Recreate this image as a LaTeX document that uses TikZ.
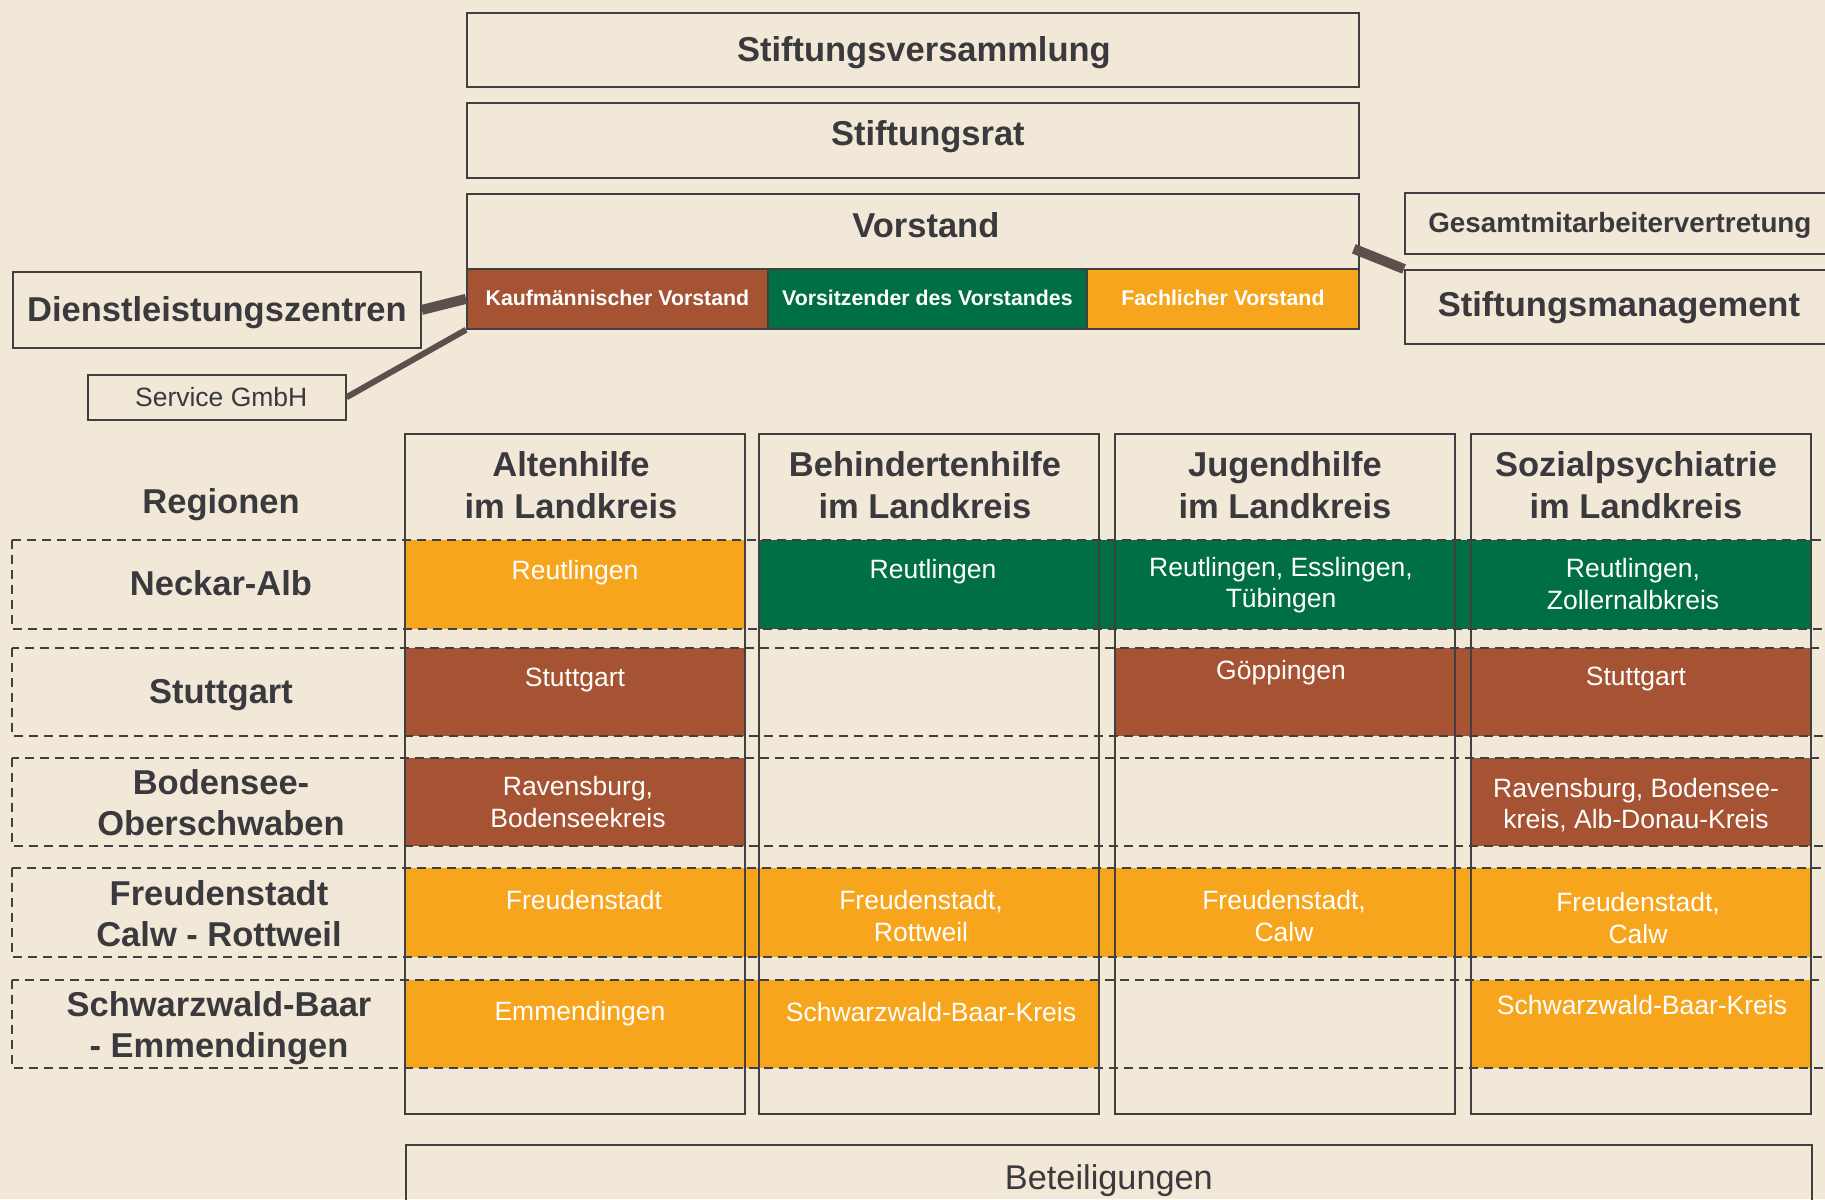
\documentclass[tikz,border=0pt]{standalone}
\usepackage{fontspec}
\setmainfont{Liberation Sans}
\usetikzlibrary{calc}
\definecolor{bg}{HTML}{F1E8D7}
\definecolor{txt}{HTML}{3A393D}
\definecolor{boxc}{HTML}{404040}
\definecolor{orng}{HTML}{F7A51D}
\definecolor{grn}{HTML}{007044}
\definecolor{brwn}{HTML}{A55332}
\definecolor{connc}{HTML}{5C504C}
\newcommand{\lowerby}[2]{\raisebox{-#1pt}[\height][\depth]{#2}}
\tikzset{
  box/.style={draw=boxc, line width=1.8pt, inner sep=0pt, anchor=north west, text=txt},
  bigb/.style={font=\fontsize{34.5}{42}\selectfont\bfseries, align=center, text=txt},
  cell/.style={text=white, font=\fontsize{26.5}{31.5}\selectfont, align=center, inner sep=0pt},
  conn/.style={draw=connc, line cap=butt},
  colbox/.style={draw=boxc, line width=1.8pt},
  rowbox/.style={draw=boxc, line width=1.6pt, dash pattern=on 9pt off 6pt},
  vcell/.style={draw=boxc, line width=1.8pt, inner sep=0pt, anchor=north west, text=white,
    font=\fontsize{21.3}{25}\selectfont\bfseries}
}
\begin{document}
\begin{tikzpicture}[x=1pt,y=-1pt]
\path[use as bounding box, fill=bg] (0,0) rectangle (1825,1199);
\clip (0,0) rectangle (1825,1199);

% top boxes
\node[box, bigb, minimum width=892, minimum height=74] (sv) at (466,12) {\hspace*{22pt}\lowerby{2.5}{Stiftungsversammlung}};
\node[box, bigb, minimum width=892, minimum height=75] (sr) at (466,102) {\hspace*{30pt}\lowerby{-3.5}{Stiftungsrat}};
\node[box, bigb, minimum width=892, minimum height=75] (vs) at (466,193) {\hspace*{26pt}\lowerby{-6}{Vorstand}};
\node[vcell, fill=brwn, minimum width=301, minimum height=60] (kv) at (466,268) {\lowerby{-1}{Kaufmännischer Vorstand}};
\node[vcell, fill=grn, minimum width=319, minimum height=60] (vv) at (767,268) {\lowerby{-1}{Vorsitzender des Vorstandes}};
\node[vcell, fill=orng, minimum width=272, minimum height=60] (fv) at (1086,268) {\lowerby{-1}{Fachlicher Vorstand}};

\node[box, bigb, minimum width=408, minimum height=76] (dl) at (12,271) {\lowerby{2.3}{Dienstleistungszentren}};
\node[box, line width=1.5pt, font=\fontsize{26.5}{31.5}\selectfont, minimum width=258, minimum height=45] (sg) at (87,374) {\hspace*{9pt}Service GmbH};
\node[box, font=\fontsize{27.8}{33}\selectfont\bfseries, minimum width=430, minimum height=61] (gm) at (1404,192) {\lowerby{2}{Gesamtmitarbeitervertretung}};
\node[box, bigb, minimum width=428, minimum height=74] (sm) at (1404,269) {\lowerby{1}{Stiftungsmanagement}};

% connectors
\draw[conn, line width=10pt] (dl.east) -- (kv.west);
\draw[conn, line width=6pt] (sg.east) -- (kv.south west);
\draw[conn, line width=10pt] ($(vs.south east)+(-6,-21)$) -- (sm.north west);

% cell fills
\fill[orng] (405,540) rectangle (745,629);
\fill[grn]  (759,540) rectangle (1811,629);
\fill[brwn] (405,648) rectangle (745,736);
\fill[brwn] (1115,648) rectangle (1811,736);
\fill[brwn] (405,758) rectangle (745,846);
\fill[brwn] (1471,758) rectangle (1811,846);
\fill[orng] (405,868) rectangle (1811,957);
\fill[orng] (405,980) rectangle (1099,1068);
\fill[orng] (1471,980) rectangle (1811,1068);

% columns
\draw[colbox] (405,434) rectangle (745,1114);
\draw[colbox] (759,434) rectangle (1099,1114);
\draw[colbox] (1115,434) rectangle (1455,1114);
\draw[colbox] (1471,434) rectangle (1811,1114);

% dashed rows
\draw[rowbox] (12,540) rectangle (1840,629);
\draw[rowbox] (12,648) rectangle (1840,736);
\draw[rowbox] (12,758) rectangle (1840,846);
\draw[rowbox] (12,868) rectangle (1840,957);
\draw[rowbox] (12,980) rectangle (1840,1068);

% column headers
\node[bigb] (h1) at (571,485) {Altenhilfe\\im Landkreis};
\node[bigb] (h2) at (925,485) {Behindertenhilfe\\im Landkreis};
\node[bigb] (h3) at (1285,485) {Jugendhilfe\\im Landkreis};
\node[bigb] (h4) at (1636,485) {Sozialpsychiatrie\\im Landkreis};

% row labels
\node[bigb] (rg) at (221,505) {Regionen};
\node[bigb] (r1) at (221,583) {Neckar-Alb};
\node[bigb] (r2) at (221,695) {Stuttgart};
\node[bigb, font=\fontsize{34.5}{41}\selectfont\bfseries] (r3) at (221,803) {Bodensee-\\Oberschwaben};
\node[bigb, font=\fontsize{34.5}{41}\selectfont\bfseries] (r4) at (219,914) {Freudenstadt\\Calw - Rottweil};
\node[bigb, font=\fontsize{34.5}{41}\selectfont\bfseries] (r5) at (219,1028) {Schwarzwald-Baar\\- Emmendingen};

% cell texts
\node[cell] (t11) at (575,573) {Reutlingen};
\node[cell] (t12) at (933,572) {Reutlingen};
\node[cell] (t13) at (1281,585) {Reutlingen, Esslingen,\\Tübingen};
\node[cell] (t14) at (1633,584) {Reutlingen,\\Zollernalbkreis};
\node[cell] (t21) at (575,680) {Stuttgart};
\node[cell] (t23) at (1281,673) {Göppingen};
\node[cell] (t24) at (1636,679) {Stuttgart};
\node[cell] (t31) at (578,802) {Ravensburg,\\Bodenseekreis};
\node[cell] (t34) at (1636,805) {Ravensburg, Bodensee-\\kreis, Alb-Donau-Kreis};
\node[cell] (t41) at (584,900) {Freudenstadt};
\node[cell] (t42) at (921,916) {Freudenstadt,\\Rottweil};
\node[cell] (t43) at (1284,916) {Freudenstadt,\\Calw};
\node[cell] (t44) at (1638,918) {Freudenstadt,\\Calw};
\node[cell] (t51) at (580,1014) {Emmendingen};
\node[cell] (t52) at (931,1012) {Schwarzwald-Baar-Kreis};
\node[cell] (t54) at (1642,1005) {Schwarzwald-Baar-Kreis};

% Beteiligungen
\node[box, font=\fontsize{34.3}{41}\selectfont, minimum width=1406, minimum height=66] (bt) at (405,1144) {\lowerby{2.3}{Beteiligungen}};
\end{tikzpicture}
\end{document}
